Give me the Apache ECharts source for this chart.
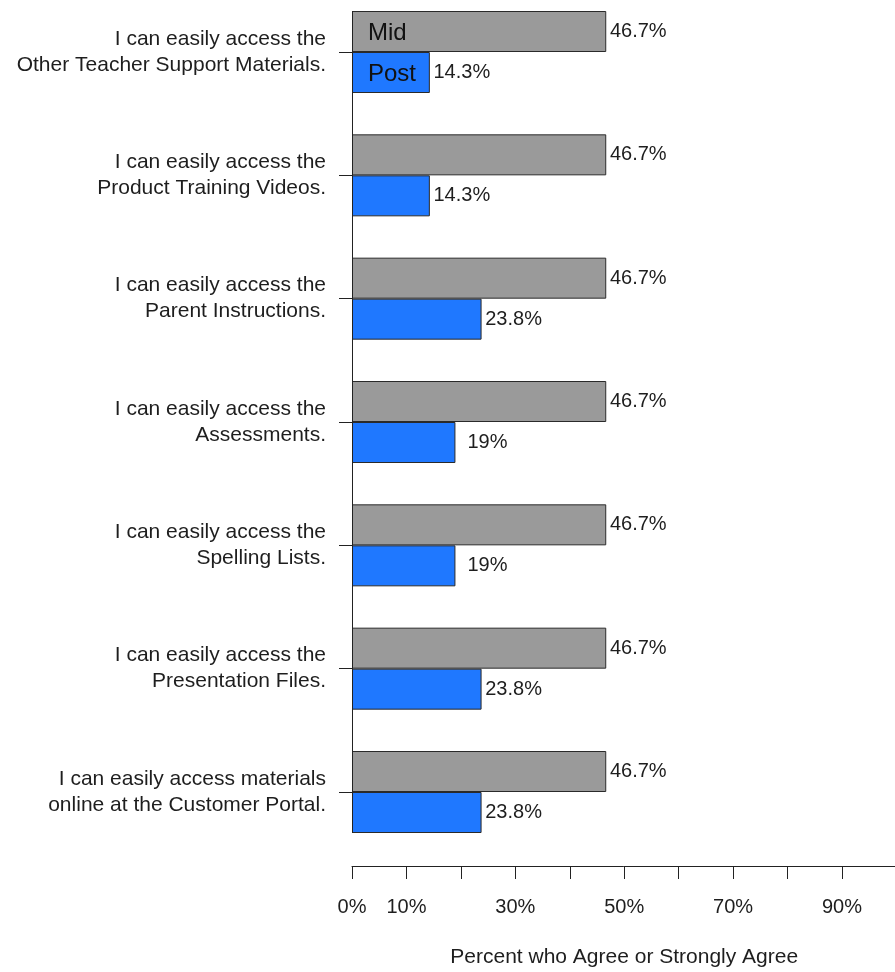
<!DOCTYPE html>
<html>
<head>
<meta charset="utf-8">
<script src="https://cdn.jsdelivr.net/npm/echarts@6/dist/echarts.min.js"></script>
<style>
  html, body { margin: 0; padding: 0; background: #fff; }
  #chart { width: 895px; height: 972px; }
</style>
</head>
<body>
<div id="chart"></div>
<script>
// Survey statements, listed top to bottom
const categories = [
  'I can easily access the\nOther Teacher Support Materials.',
  'I can easily access the\nProduct Training Videos.',
  'I can easily access the\nParent Instructions.',
  'I can easily access the\nAssessments.',
  'I can easily access the\nSpelling Lists.',
  'I can easily access the\nPresentation Files.',
  'I can easily access materials\nonline at the Customer Portal.'
];

// Percent who agree or strongly agree
const midValues  = [46.7, 46.7, 46.7, 46.7, 46.7, 46.7, 46.7];
const postValues = [14.3, 14.3, 23.8, 19, 19, 23.8, 23.8];

// Labels for the x-axis ticks at 0, 10, ..., 100 (some left blank)
const xTickLabels = ['0%', '10%', '', '30%', '', '50%', '', '70%', '', '90%', ''];

const FONT = '"Liberation Sans", Arial, sans-serif';
const TEXT = '#1e1e1e';
const BAR_W = 41;

const chart = echarts.init(document.getElementById('chart'), null, { renderer: 'canvas' });

const labelStyle = {
  show: true,
  position: 'right',
  align: 'center',
  distance: 32,
  fontFamily: FONT,
  fontSize: 20,
  color: TEXT,
  formatter: p => p.value + '%'
};

chart.setOption({
  animation: false,
  backgroundColor: '#ffffff',
  textStyle: { fontFamily: FONT },
  legend: {
    data: ['Mid', 'Post'],
    orient: 'vertical',
    left: 363,
    top: 13,
    padding: 0,
    icon: 'none',
    itemWidth: 0,
    itemHeight: 0,
    itemGap: 0,
    selectedMode: false,
    textStyle: { fontFamily: FONT, fontSize: 24, color: '#111', lineHeight: 41 }
  },
  // category points sit on the grid's top and bottom edges;
  // the value axis runs on past the right edge of the canvas
  grid: { left: 352, width: 544.4, top: 52, height: 740, containLabel: false, outerBoundsMode: 'none' },
  xAxis: {
    type: 'value',
    min: 0,
    max: 100,
    interval: 10,
    offset: 74,
    name: 'Percent who Agree or Strongly Agree',
    nameLocation: 'middle',
    nameGap: 81,
    nameTextStyle: { fontFamily: FONT, fontSize: 21, color: TEXT },
    axisLine: { show: true, lineStyle: { color: '#222', width: 1 } },
    axisTick: { show: true, length: 13, lineStyle: { color: '#222', width: 1 } },
    axisLabel: {
      margin: 31,
      fontFamily: FONT,
      fontSize: 20,
      color: TEXT,
      showMinLabel: true,
      showMaxLabel: true,
      formatter: v => xTickLabels[Math.round(v / 10)]
    },
    splitLine: { show: false }
  },
  yAxis: {
    type: 'category',
    inverse: true,
    boundaryGap: false,
    data: categories,
    axisLine: { show: false },
    axisTick: { show: true, length: 13, lineStyle: { color: '#222', width: 1 } },
    axisLabel: {
      margin: 26,
      fontFamily: FONT,
      fontSize: 21,
      lineHeight: 26,
      padding: [10, 0, 0, 0],
      color: TEXT,
      align: 'right'
    }
  },
  series: [
    {
      name: 'Mid',
      type: 'bar',
      data: midValues,
      barWidth: BAR_W,
      barGap: '0%',
      clip: false,
      itemStyle: { color: '#9a9a9a', borderColor: '#2a2a2a', borderWidth: 1 },
      label: labelStyle
    },
    {
      name: 'Post',
      type: 'bar',
      data: postValues,
      barWidth: BAR_W,
      barGap: '0%',
      clip: false,
      itemStyle: { color: '#1f78ff', borderColor: '#2a2a2a', borderWidth: 1 },
      label: labelStyle
    }
  ]
});

// Vertical axis line spanning only the extent of the bars
const x0 = chart.convertToPixel({ xAxisIndex: 0 }, 0);
const yFirst = chart.convertToPixel({ yAxisIndex: 0 }, categories[0]);
const yLast = chart.convertToPixel({ yAxisIndex: 0 }, categories[categories.length - 1]);
chart.setOption({
  graphic: [{
    type: 'line',
    z: 100,
    shape: { x1: Math.round(x0) + 0.5, y1: yFirst - BAR_W, x2: Math.round(x0) + 0.5, y2: yLast + BAR_W },
    style: { stroke: '#222', lineWidth: 1 }
  }]
});
</script>
</body>
</html>
